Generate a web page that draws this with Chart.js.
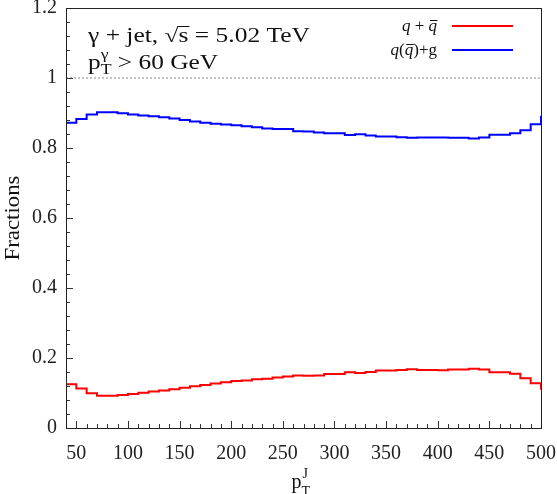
<!DOCTYPE html>
<html>
<head>
<meta charset="utf-8">
<script src="https://cdn.jsdelivr.net/npm/chart.js@4.4.0/dist/chart.umd.min.js"></script>
<style>
  body { margin: 0; background: #fff; }
  #wrap { width: 557px; height: 494px; position: relative; }
</style>
</head>
<body>
<div id="wrap"><canvas id="chart"></canvas></div>
<script>
// bin lower edges (GeV); the last entry is the overflow bin at the right edge
const binEdges = [40, 50, 60, 70, 80, 90, 100, 110, 120, 130, 140, 150, 160, 170, 180, 190,
  200, 210, 220, 230, 240, 250, 260, 270, 280, 290, 300, 310, 320, 330, 340, 350, 360, 370,
  380, 390, 400, 410, 420, 430, 440, 450, 460, 470, 480, 490, 500];

// q + qbar fraction
const quarkFrac = [0.125, 0.113, 0.099, 0.092, 0.092, 0.094, 0.097, 0.101, 0.104, 0.107,
  0.111, 0.115, 0.119, 0.123, 0.127, 0.131, 0.134, 0.136, 0.139, 0.141, 0.144, 0.147,
  0.150, 0.149, 0.150, 0.154, 0.154, 0.159, 0.157, 0.160, 0.164, 0.164, 0.166, 0.168,
  0.166, 0.166, 0.165, 0.167, 0.167, 0.169, 0.167, 0.159, 0.159, 0.155, 0.142, 0.128, 0.109];

// q(qbar) + g fraction
const gluonFrac = [0.872, 0.883, 0.896, 0.902, 0.902, 0.899, 0.896, 0.893, 0.891, 0.888,
  0.884, 0.880, 0.876, 0.872, 0.869, 0.867, 0.865, 0.862, 0.859, 0.856, 0.854, 0.854,
  0.848, 0.847, 0.844, 0.842, 0.842, 0.837, 0.839, 0.836, 0.833, 0.833, 0.831, 0.829,
  0.830, 0.830, 0.830, 0.829, 0.829, 0.827, 0.830, 0.838, 0.838, 0.842, 0.851, 0.868, 0.892];

// reference line at 1
const refLineX = [40, 500];
const refLineY = [1, 1];

const xTickLabels = [50, 100, 150, 200, 250, 300, 350, 400, 450, 500];
const yTickLabels = [0, 0.2, 0.4, 0.6, 0.8, 1, 1.2];
const xMinorTicks = [40, 60, 70, 80, 90, 110, 120, 130, 140, 160, 170, 180, 190, 210, 220, 230, 240,
  260, 270, 280, 290, 310, 320, 330, 340, 360, 370, 380, 390, 410, 420, 430, 440, 460, 470, 480, 490];
const yMinorTicks = [0.04, 0.08, 0.12, 0.16, 0.24, 0.28, 0.32, 0.36, 0.44, 0.48, 0.52, 0.56,
  0.64, 0.68, 0.72, 0.76, 0.84, 0.88, 0.92, 0.96, 1.04, 1.08, 1.12, 1.16];

const serif = "'Liberation Serif', 'DejaVu Serif', serif";

function toPoints(xs, ys) {
  return xs.map((x, i) => ({ x: x, y: ys[i] }));
}

// draws a list of [text, font, dx, dy, noAdvance] pieces, stretched so the run is `width` px wide
function drawRun(ctx, pieces, x, y, width) {
  let total = 0;
  pieces.forEach(p => {
    ctx.font = p[1];
    if (!p[4]) total += ctx.measureText(p[0]).width;
  });
  const sx = width ? width / total : 1;
  ctx.save();
  ctx.translate(x, y);
  ctx.scale(sx, 1);
  let cx = 0;
  pieces.forEach(p => {
    ctx.font = p[1];
    ctx.fillText(p[0], cx + (p[2] || 0), p[3] || 0);
    if (!p[4]) cx += ctx.measureText(p[0]).width;
  });
  ctx.restore();
}

/* frame, inward ticks, legend and the labels drawn by hand */
const decorPlugin = {
  id: 'decor',
  afterDraw(chart) {
    const ctx = chart.ctx;
    const a = chart.chartArea;
    const xs = chart.scales.x, ys = chart.scales.y;
    ctx.save();

    // ticks
    ctx.strokeStyle = '#333';
    ctx.lineWidth = 1;
    ctx.beginPath();
    xTickLabels.forEach(v => {
      const px = Math.round(xs.getPixelForValue(v)) + 0.5;
      ctx.moveTo(px, a.bottom); ctx.lineTo(px, a.bottom - 7);
    });
    xMinorTicks.forEach(v => {
      const px = Math.round(xs.getPixelForValue(v)) + 0.5;
      ctx.moveTo(px, a.bottom); ctx.lineTo(px, a.bottom - 4);
    });
    yTickLabels.forEach(v => {
      const py = Math.round(ys.getPixelForValue(v)) + 0.5;
      ctx.moveTo(a.left, py); ctx.lineTo(a.left + 7, py);
    });
    yMinorTicks.forEach(v => {
      const py = Math.round(ys.getPixelForValue(v)) + 0.5;
      ctx.moveTo(a.left, py); ctx.lineTo(a.left + 4, py);
    });
    ctx.stroke();

    // frame
    ctx.strokeStyle = '#222';
    ctx.strokeRect(Math.round(a.left) + 0.5, Math.round(a.top) + 0.5,
      Math.round(a.right - a.left), Math.round(a.bottom - a.top));

    ctx.fillStyle = '#111';
    ctx.textBaseline = 'alphabetic';
    const f20 = '20px ' + serif, f14 = '14px ' + serif;

    // top-left annotation, line 1 (the sqrt bar is drawn below)
    drawRun(ctx, [
      ['\u03b3 + jet, \u221as = 5.02 TeV', f20],
    ], 88, 42, 222);
    ctx.font = f20;
    const full = ctx.measureText('\u03b3 + jet, \u221as = 5.02 TeV').width;
    const pre = ctx.measureText('\u03b3 + jet, \u221a').width;
    const sw = ctx.measureText('s').width;
    const k = 222 / full;
    ctx.strokeStyle = '#111';
    ctx.lineWidth = 1;
    ctx.beginPath();
    ctx.moveTo(88 + pre * k - 1, 26.5); ctx.lineTo(88 + (pre + sw) * k + 1, 26.5);
    ctx.stroke();

    // line 2: pT^gamma > 60 GeV
    drawRun(ctx, [
      ['p', f20],
      ['\u03b3', f14, 0, -10, true],
      ['T', f14, 0, 5],
      [' > 60 GeV', f20],
    ], 88, 69, 130);

    // y axis title
    ctx.save();
    ctx.translate(19, (a.top + a.bottom) / 2);
    ctx.rotate(-Math.PI / 2);
    ctx.font = f20;
    const fw = ctx.measureText('Fractions').width;
    ctx.scale(85 / fw, 1);
    ctx.textAlign = 'center';
    ctx.fillText('Fractions', 0, 0);
    ctx.restore();

    // x axis title pT^J
    drawRun(ctx, [
      ['p', f20],
      ['J', f14, 1, -10, true],
      ['T', f14, 0, 8],
    ], (a.left + a.right) / 2 - 12, 488, 0);

    // legend
    const entries = chart.data.datasets.filter(d => d.legendY);
    entries.forEach(d => {
      ctx.strokeStyle = d.borderColor;
      ctx.lineWidth = 2;
      ctx.beginPath();
      ctx.moveTo(452, d.legendY); ctx.lineTo(513, d.legendY);
      ctx.stroke();
    });
    ctx.fillStyle = '#111';
    ctx.strokeStyle = '#111';
    ctx.lineWidth = 1;
    const fi = 'italic 17px ' + serif, fr = '17px ' + serif;
    // "q + q̄"
    let y = 31;
    ctx.font = fi;
    const w1 = ctx.measureText('q').width;
    ctx.font = fr;
    const w2 = ctx.measureText(' + ').width;
    let x = 437 - (w1 * 2 + w2);
    ctx.font = fi;
    ctx.fillText('q', x, y);
    ctx.font = fr;
    ctx.fillText(' + ', x + w1, y);
    ctx.font = fi;
    ctx.fillText('q', x + w1 + w2, y);
    ctx.beginPath();
    ctx.moveTo(x + w1 + w2 + 1.5, y - 10.5); ctx.lineTo(x + w1 * 2 + w2 + 0.5, y - 10.5);
    ctx.stroke();
    // "q(q̄)+g"
    y = 55;
    ctx.font = fr;
    const wp = ctx.measureText('(').width;
    const wr = ctx.measureText(')+g').width;
    x = 437 - (w1 * 2 + wp + wr);
    ctx.font = fi;
    ctx.fillText('q', x, y);
    ctx.font = fr;
    ctx.fillText('(', x + w1, y);
    ctx.font = fi;
    ctx.fillText('q', x + w1 + wp, y);
    ctx.beginPath();
    ctx.moveTo(x + w1 + wp + 1.5, y - 10.5); ctx.lineTo(x + w1 * 2 + wp + 0.5, y - 10.5);
    ctx.stroke();
    ctx.font = fr;
    ctx.fillText(')+g', x + w1 * 2 + wp, y);

    ctx.restore();
  }
};

const config = {
  type: 'line',
  data: {
    datasets: [
      {
        label: 'q + q\u0304',
        data: toPoints(binEdges, quarkFrac),
        borderColor: '#ff0000',
        borderWidth: 2,
        stepped: true,
        pointRadius: 0,
        fill: false,
        legendY: 26,
      },
      {
        label: 'q(q\u0304)+g',
        data: toPoints(binEdges, gluonFrac),
        borderColor: '#0000ff',
        borderWidth: 2,
        stepped: true,
        pointRadius: 0,
        fill: false,
        legendY: 50,
      },
      {
        label: 'ref',
        data: toPoints(refLineX, refLineY),
        borderColor: '#888',
        borderWidth: 1,
        borderDash: [2, 2],
        pointRadius: 0,
        fill: false,
      },
    ],
  },
  options: {
    responsive: true,
    maintainAspectRatio: false,
    animation: false,
    layout: { padding: { left: 0, right: 16, top: 8, bottom: 0 } },
    plugins: {
      legend: { display: false },
      tooltip: { enabled: false },
    },
    scales: {
      x: {
        type: 'linear',
        min: 40,
        max: 500,
        grid: { display: false, drawTicks: false },
        border: { display: false },
        afterFit: s => {
          s.height = 66;
          s.paddingLeft = 0;
          s.paddingRight = 0;
        },
        afterBuildTicks: s => { s.ticks = xTickLabels.map(v => ({ value: v })); },
        ticks: {
          font: { family: serif, size: 20 },
          color: '#222',
          padding: 14,
          maxRotation: 0,
          autoSkip: false,
          callback: v => String(v),
        },
      },
      y: {
        min: 0,
        max: 1.2,
        grid: { display: false, drawTicks: false },
        border: { display: false },
        afterFit: s => {
          s.width = 66;
          s.paddingTop = 0;
          s.paddingBottom = 0;
        },
        afterBuildTicks: s => { s.ticks = yTickLabels.map(v => ({ value: v })); },
        ticks: {
          font: { family: serif, size: 20 },
          color: '#222',
          padding: 9,
          autoSkip: false,
          callback: v => String(Math.round(v * 10) / 10),
        },
      },
    },
  },
  plugins: [decorPlugin],
};

const myChart = new Chart(document.getElementById('chart'), config);
</script>
</body>
</html>
